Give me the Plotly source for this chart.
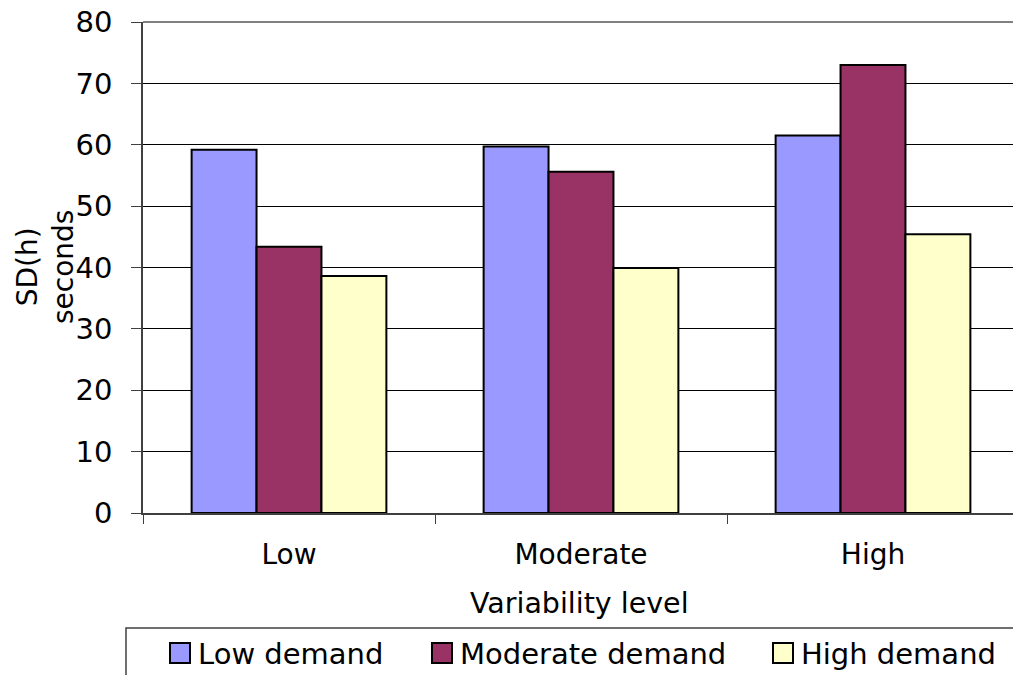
import plotly.graph_objects as go

# Mean SD(h) in seconds per variability level, one series per demand level
categories = ["Low", "Moderate", "High"]
series_names = ["Low demand", "Moderate demand", "High demand"]
low_demand = [59.2, 59.7, 61.5]
moderate_demand = [43.4, 55.6, 73.0]
high_demand = [38.6, 39.9, 45.4]
y_ticks = [0, 10, 20, 30, 40, 50, 60, 70, 80]

colors = ["#9999FF", "#993366", "#FFFFCC"]
values = [low_demand, moderate_demand, high_demand]

FONT = "DejaVu Sans, Verdana, sans-serif"
W, H = 1013, 675
L, T, B = 143, 22, 162
CAT_PX = 292  # pixel width of one category slot

fig = go.Figure()
for name, vals, col in zip(series_names, values, colors):
    fig.add_trace(go.Bar(
        x=categories, y=vals, name=name,
        marker=dict(color=col, line=dict(color="black", width=2)),
        showlegend=False,
    ))

plot_w = W - L
x_end = -0.5 + plot_w / CAT_PX

fig.update_layout(
    width=W, height=H,
    margin=dict(l=L, r=0, t=T, b=B),
    paper_bgcolor="white", plot_bgcolor="white",
    barmode="group", bargap=0.333, bargroupgap=0,
    font=dict(family=FONT, size=28, color="black"),
    xaxis=dict(
        range=[-0.5, x_end], tickson="boundaries",
        ticks="outside", ticklen=9, tickcolor="#404040", tickwidth=1,
        showline=True, linecolor="#404040", linewidth=1.5,
        showgrid=False, ticklabelstandoff=16,
        tickfont=dict(size=28),
    ),
    yaxis=dict(
        range=[0, 80], tickvals=y_ticks,
        ticks="outside", ticklen=10, tickcolor="#404040", tickwidth=1,
        showline=True, linecolor="#404040", linewidth=1.5,
        showgrid=True, gridcolor="black", gridwidth=1,
        zeroline=False, ticklabelstandoff=13,
        tickfont=dict(size=29),
    ),
)

# gray top border of the plot area
fig.add_shape(type="line", xref="paper", yref="paper", x0=0, x1=1, y0=1, y1=1,
              line=dict(color="#808080", width=2), layer="above")


def px_x(px):
    return (px - L) / plot_w


def px_y(py):
    return (H - B - py) / (H - T - B)


# axis titles
fig.add_annotation(text="SD(h)<br>seconds", xref="paper", yref="paper",
                   x=px_x(45), y=px_y(267),
                   xanchor="center", yanchor="middle", textangle=-90,
                   showarrow=False, font=dict(size=28), align="center")
fig.add_annotation(text="Variability level", xref="paper", yref="paper",
                   x=px_x(579), y=px_y(603),
                   xanchor="center", yanchor="middle",
                   showarrow=False, font=dict(size=28.5))

# legend box (extends past the right/bottom edge)
fig.add_shape(type="rect", xref="paper", yref="paper",
              x0=px_x(126), x1=px_x(1030), y0=px_y(628), y1=px_y(690),
              line=dict(color="#404040", width=1.5), fillcolor="white")
swatch_x = [170, 432, 773]
for sx, name, col in zip(swatch_x, series_names, colors):
    fig.add_shape(type="rect", xref="paper", yref="paper",
                  x0=px_x(sx), x1=px_x(sx + 20), y0=px_y(643), y1=px_y(663),
                  line=dict(color="black", width=2), fillcolor=col)
    fig.add_annotation(text=name, xref="paper", yref="paper",
                       x=px_x(sx + 26), y=px_y(654), xanchor="left",
                       yanchor="middle", showarrow=False, font=dict(size=29))

fig.write_html("out.html")
